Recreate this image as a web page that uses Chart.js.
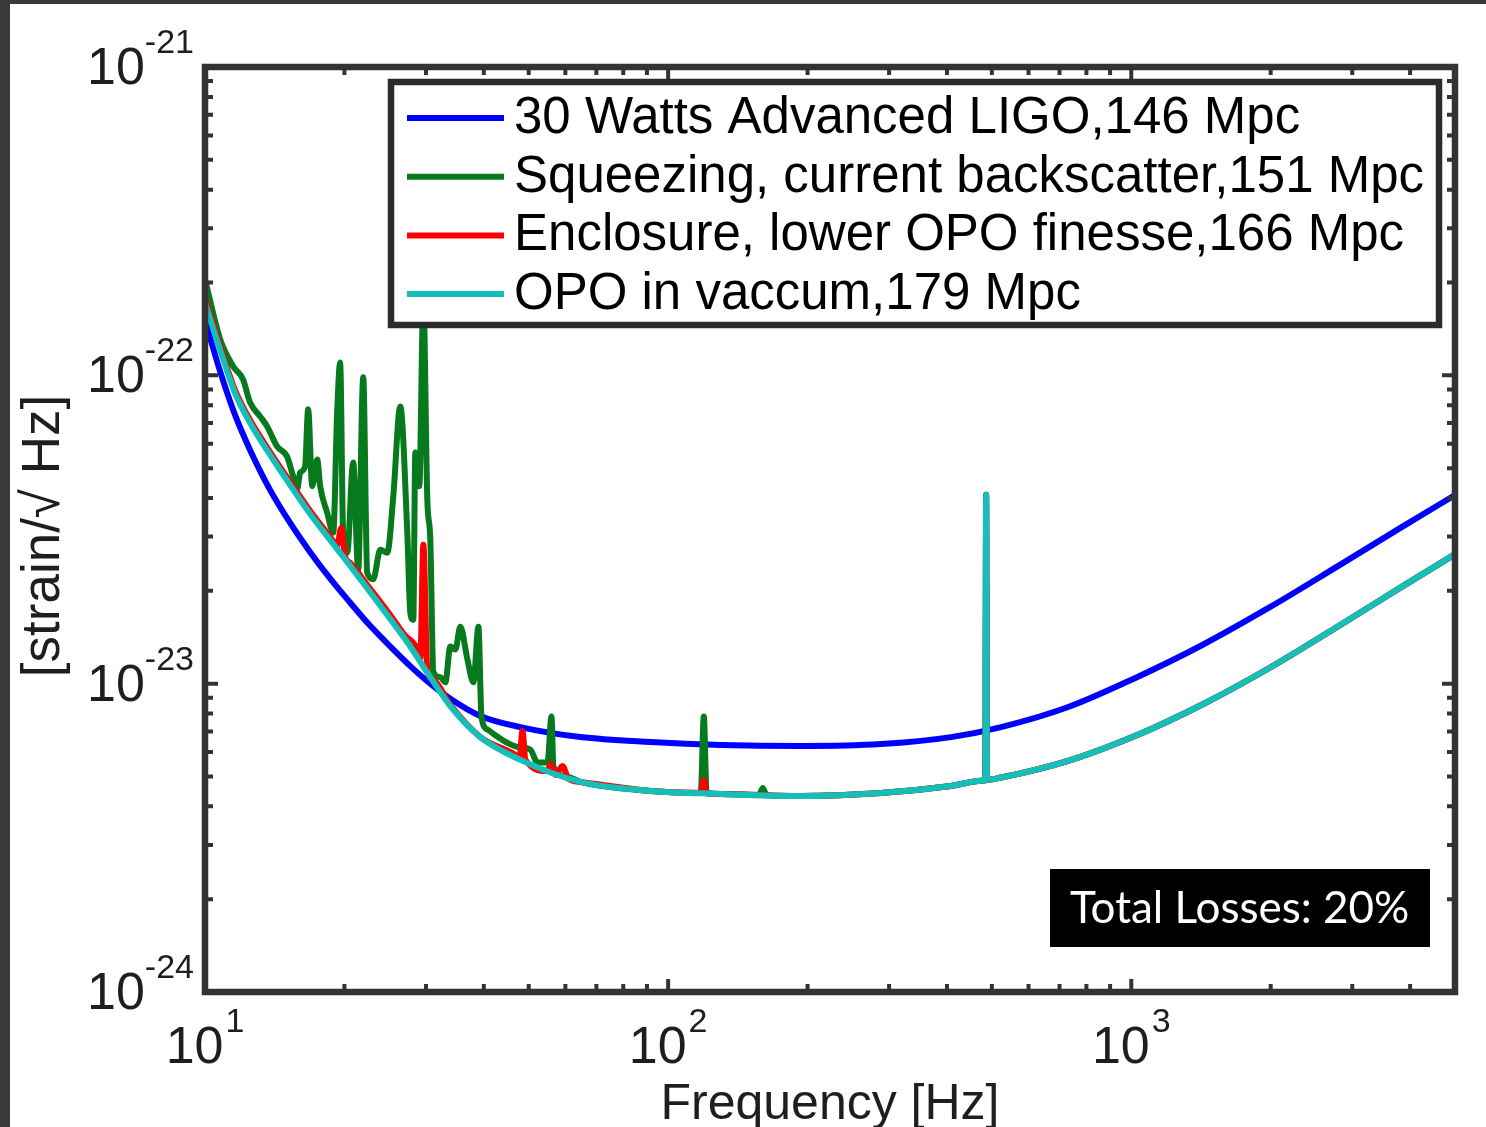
<!DOCTYPE html>
<html><head><meta charset="utf-8">
<script src="https://cdn.jsdelivr.net/npm/chart.js@4.4.1/dist/chart.umd.min.js"></script>
<style>html,body{margin:0;padding:0;background:#fff;overflow:hidden}canvas{display:block}</style>
</head><body>
<canvas id="c" width="1486" height="1127"></canvas>
<script>
// ---------- data ----------
const seriesLabels = [
  '30 Watts Advanced LIGO,146 Mpc',
  'Squeezing, current backscatter,151 Mpc',
  'Enclosure, lower OPO finesse,166 Mpc',
  'OPO in vaccum,179 Mpc'
];
const freqBlue = [10, 10.78, 11.61, 12.51, 13.82, 15.27, 16.87, 18.64, 20.59, 22.74,
  25.12, 27.75, 30.65, 33.86, 39.32, 47.98, 64.69, 91.67, 129.9, 193.4,
  288.0, 408.1, 523.5, 730.8, 1015, 1417, 1978, 2748, 3835, 5000];
const asdBlue = [1.51e-22, 1.03e-22, 7.44e-23, 5.73e-23, 4.25e-23, 3.32e-23, 2.67e-23, 2.19e-23, 1.83e-23, 1.54e-23,
  1.32e-23, 1.14e-23, 1.00e-23, 8.94e-24, 7.86e-24, 7.23e-24, 6.71e-24, 6.47e-24, 6.33e-24, 6.28e-24,
  6.37e-24, 6.71e-24, 7.23e-24, 8.40e-24, 1.04e-23, 1.33e-23, 1.76e-23, 2.37e-23, 3.22e-23, 4.09e-23];

const freqGreen = [10.00, 10.78, 11.50, 12.08, 12.51, 13.15, 13.62, 14.31, 15.04, 15.50,
  15.81, 16.05, 16.45, 16.70, 17.04, 17.47, 17.73, 18.35, 18.92, 19.29,
  19.58, 19.88, 20.28, 20.89, 21.42, 21.96, 22.40, 23.08, 23.90, 24.75,
  25.50, 26.40, 27.34, 27.75, 28.17, 28.45, 29.02, 29.61, 30.20, 30.65,
  31.12, 32.22, 33.03, 33.86, 34.71, 35.59, 36.86, 37.98, 38.94, 39.53,
  40.72, 42.80, 44.98, 47.27, 50.43, 52.22, 54.89, 55.99, 56.54, 60.62,
  64.69, 91.67, 117.6, 119.4, 121.1, 129.9, 157, 160.1, 163, 193.4,
  288.0, 408.1, 482, 484, 486, 488, 490, 523.5, 730.8, 1015,
  1417, 1978, 2748, 3835, 5000];
const asdGreen = [2.05e-22, 1.31e-22, 1.07e-22, 9.70e-23, 8.17e-23, 7.36e-23, 6.83e-23, 5.88e-23, 5.45e-23, 4.70e-23,
  4.27e-23, 4.84e-23, 5.07e-23, 7.76e-23, 4.37e-23, 5.33e-23, 4.37e-23, 3.59e-23, 3.09e-23, 7.59e-23,
  1.10e-22, 3.00e-23, 2.66e-23, 5.22e-23, 2.34e-23, 9.86e-23, 2.29e-23, 2.18e-23, 2.72e-23, 2.66e-23,
  4.05e-23, 7.93e-23, 3.09e-23, 1.70e-23, 1.61e-23, 5.62e-23, 4.37e-23, 1.77e-22, 3.95e-23, 2.94e-23,
  1.09e-23, 1.05e-23, 1.01e-23, 1.32e-23, 1.29e-23, 1.53e-23, 1.20e-23, 1.01e-23, 1.53e-23, 7.82e-24,
  7.10e-24, 6.73e-24, 6.43e-24, 6.24e-24, 6.10e-24, 5.55e-24, 5.55e-24, 7.82e-24, 5.38e-24, 4.99e-24,
  4.80e-24, 4.49e-24, 4.42e-24, 7.82e-24, 4.41e-24, 4.39e-24, 4.35e-24, 4.59e-24, 4.35e-24, 4.32e-24,
  4.42e-24, 4.66e-24, 4.85e-24, 4.86e-24, 4.10e-23, 4.88e-24, 4.88e-24, 4.96e-24, 5.62e-24, 6.75e-24,
  8.53e-24, 1.12e-23, 1.51e-23, 2.06e-23, 2.63e-23];

const freqRed = [10, 10.78, 11.61, 12.51, 13.82, 15.27, 16.87, 18.64, 19.29, 19.68,
  20.08, 20.59, 22.74, 25.12, 27.07, 28.45, 29.17, 29.61, 30.20, 31.12,
  33.86, 39.32, 46.81, 47.75, 48.47, 49.20, 54.89, 55.71, 57.11, 59.13,
  60.93, 64.69, 91.67, 117.6, 119.4, 121.1, 129.9, 193.4, 288.0, 408.1,
  482, 484, 486, 488, 490, 523.5, 730.8, 1015, 1417, 1978,
  2748, 3835, 5000];
const asdRed = [1.78e-22, 1.24e-22, 8.96e-23, 7.16e-23, 5.64e-23, 4.51e-23, 3.63e-23, 2.99e-23, 2.80e-23, 3.20e-23,
  2.58e-23, 2.46e-23, 2.03e-23, 1.67e-23, 1.43e-23, 1.33e-23, 1.21e-23, 2.82e-23, 1.11e-23, 1.03e-23,
  8.53e-24, 6.71e-24, 5.87e-24, 5.73e-24, 7.02e-24, 5.66e-24, 5.21e-24, 5.49e-24, 5.06e-24, 5.41e-24,
  4.91e-24, 4.80e-24, 4.49e-24, 4.42e-24, 4.87e-24, 4.41e-24, 4.39e-24, 4.32e-24, 4.42e-24, 4.66e-24,
  4.85e-24, 4.86e-24, 4.10e-23, 4.88e-24, 4.88e-24, 4.96e-24, 5.62e-24, 6.75e-24, 8.53e-24, 1.12e-23,
  1.51e-23, 2.06e-23, 2.63e-23];

const freqCyan = [10, 10.78, 11.61, 12.51, 13.82, 15.27, 16.87, 18.64, 20.59, 22.74,
  25.12, 27.75, 30.65, 33.86, 39.32, 47.98, 64.69, 91.67, 129.9, 193.4,
  288.0, 408.1, 482, 484, 486, 488, 490, 523.5, 730.8, 1015,
  1417, 1978, 2748, 3835, 5000];
const asdCyan = [1.72e-22, 1.21e-22, 8.76e-23, 7.01e-23, 5.52e-23, 4.41e-23, 3.55e-23, 2.92e-23, 2.41e-23, 1.98e-23,
  1.62e-23, 1.32e-23, 1.05e-23, 8.46e-24, 6.71e-24, 5.66e-24, 4.80e-24, 4.49e-24, 4.39e-24, 4.32e-24,
  4.42e-24, 4.66e-24, 4.85e-24, 4.86e-24, 4.10e-23, 4.88e-24, 4.88e-24, 4.96e-24, 5.62e-24, 6.75e-24,
  8.53e-24, 1.12e-23, 1.51e-23, 2.06e-23, 2.63e-23];

const xTickValues = [10, 100, 1000];
const xTickExponents = ['1', '2', '3'];
const yTickValues = [1e-24, 1e-23, 1e-22, 1e-21];
const yTickExponents = ['-24', '-23', '-22', '-21'];
const xTitle = 'Frequency [Hz]';
const yTitle = '[strain/\u221A Hz]';
const annotationText = 'Total Losses: 20%';

// ---------- styles ----------
const colors = ['#0000FF', '#077A1E', '#FF0000', '#14BFBA'];
const drawOrder = [4, 3, 2, 1];
const FRAME = '#333333';
const TXT = '#1e1e1e';
const SANS = '"Liberation Sans", Arial, sans-serif';

function pts(fx, fy) { return fx.map((f, i) => ({ x: f, y: fy[i] })); }
const seriesData = [pts(freqBlue, asdBlue), pts(freqGreen, asdGreen), pts(freqRed, asdRed), pts(freqCyan, asdCyan)];

const decorPlugin = {
  id: 'decor',
  beforeDraw(chart) {
    const ctx = chart.ctx;
    ctx.save();
    ctx.fillStyle = '#ffffff';
    ctx.fillRect(0, 0, chart.width, chart.height);
    ctx.fillStyle = '#3a3a3a';
    ctx.fillRect(0, 0, chart.width, 4);
    ctx.fillRect(0, 0, 10, chart.height);
    ctx.restore();
  },
  afterDatasetsDraw(chart) {
    const ctx = chart.ctx, a = chart.chartArea, xs = chart.scales.x, ys = chart.scales.y;
    ctx.save();
    ctx.strokeStyle = FRAME;
    ctx.lineWidth = 4;
    for (let d = 10; d < xs.max; d *= 10) {
      for (let m = 1; m <= 9; m++) {
        const v = d * m;
        if (v <= xs.min || v >= xs.max) continue;
        const px = xs.getPixelForValue(v);
        const len = m === 1 ? 13 : 8;
        ctx.beginPath();
        ctx.moveTo(px, a.bottom); ctx.lineTo(px, a.bottom - len);
        ctx.moveTo(px, a.top); ctx.lineTo(px, a.top + len);
        ctx.stroke();
      }
    }
    for (let d = 1e-24; d < ys.max * 0.99; d *= 10) {
      for (let m = 1; m <= 9; m++) {
        const v = d * m;
        if (v <= ys.min * 1.0001 || v >= ys.max * 0.9999) continue;
        const py = ys.getPixelForValue(v);
        const len = m === 1 ? 13 : 8;
        ctx.beginPath();
        ctx.moveTo(a.left, py); ctx.lineTo(a.left + len, py);
        ctx.moveTo(a.right, py); ctx.lineTo(a.right - len, py);
        ctx.stroke();
      }
    }
    ctx.lineWidth = 6.5;
    ctx.strokeRect(a.left, a.top, a.right - a.left, a.bottom - a.top);

    // legend box
    const L = { left: 391, top: 82, right: 1439, bottom: 325 };
    ctx.fillStyle = '#ffffff';
    ctx.fillRect(L.left, L.top, L.right - L.left, L.bottom - L.top);
    ctx.lineWidth = 6.5;
    ctx.strokeStyle = '#2b2b2b';
    ctx.strokeRect(L.left, L.top, L.right - L.left, L.bottom - L.top);
    chart.data.datasets.forEach((ds, i) => {
      const ry = 118 + i * 58.7;
      ctx.strokeStyle = ds.borderColor;
      ctx.lineWidth = 6;
      ctx.beginPath(); ctx.moveTo(407, ry); ctx.lineTo(504, ry); ctx.stroke();
      ctx.fillStyle = '#000';
      ctx.font = '51px ' + SANS;
      ctx.textBaseline = 'middle';
      ctx.textAlign = 'left';
      ctx.fillText(ds.label, 514, ry + 1);
    });

    // annotation box
    ctx.fillStyle = '#000';
    ctx.fillRect(1050, 869, 380, 78);
    ctx.fillStyle = '#fff';
    ctx.font = '44px Lato, "Open Sans", sans-serif';
    ctx.textBaseline = 'middle';
    ctx.textAlign = 'left';
    ctx.fillText(annotationText, 1070, 909);
    ctx.restore();
  },
  afterDraw(chart) {
    const ctx = chart.ctx, a = chart.chartArea, xs = chart.scales.x, ys = chart.scales.y;
    ctx.save();
    ctx.fillStyle = TXT;
    ctx.textBaseline = 'alphabetic';
    ctx.textAlign = 'left';
    const bigF = '52px ' + SANS, expF = '34px ' + SANS;
    yTickValues.forEach((v, i) => {
      const py = ys.getPixelForValue(v);
      ctx.font = expF; const ew = ctx.measureText(yTickExponents[i]).width;
      ctx.font = bigF; const bw = ctx.measureText('10').width;
      const right = 194;
      ctx.fillText('10', right - ew - bw, py + 17);
      ctx.font = expF; ctx.fillText(yTickExponents[i], right - ew, py - 14);
    });
    xTickValues.forEach((v, i) => {
      const px = xs.getPixelForValue(v);
      ctx.font = expF; const ew = ctx.measureText(xTickExponents[i]).width;
      ctx.font = bigF; const bw = ctx.measureText('10').width;
      const start = px - (bw + ew + 2) / 2;
      ctx.fillText('10', start, a.bottom + 71);
      ctx.font = expF; ctx.fillText(xTickExponents[i], start + bw + 2, a.bottom + 40);
    });
    ctx.textAlign = 'center';
    ctx.textBaseline = 'middle';
    ctx.font = '50px ' + SANS;
    ctx.fillText(xs.options.title.text, (a.left + a.right) / 2, 1105);
    ctx.font = '53px ' + SANS;
    ctx.translate(44, 536);
    ctx.rotate(-Math.PI / 2);
    ctx.fillText(ys.options.title.text, 0, 0);
    ctx.restore();
  }
};

new Chart(document.getElementById('c'), {
  type: 'line',
  data: {
    datasets: seriesLabels.map((lab, i) => ({
      label: lab,
      data: seriesData[i],
      borderColor: colors[i],
      backgroundColor: colors[i],
      borderWidth: 6,
      pointRadius: 0,
      pointHoverRadius: 0,
      cubicInterpolationMode: 'monotone',
      fill: false,
      order: drawOrder[i]
    }))
  },
  options: {
    responsive: false,
    animation: false,
    events: [],
    layout: { padding: { left: 205, top: 67, right: 31, bottom: 135 } },
    plugins: { legend: { display: false }, tooltip: { enabled: false } },
    scales: {
      x: { type: 'logarithmic', min: 10, max: 5000, display: false,
           title: { display: false, text: xTitle } },
      y: { type: 'logarithmic', min: 1e-24, max: 1e-21, display: false,
           title: { display: false, text: yTitle } }
    }
  },
  plugins: [decorPlugin]
});
</script>
</body></html>
